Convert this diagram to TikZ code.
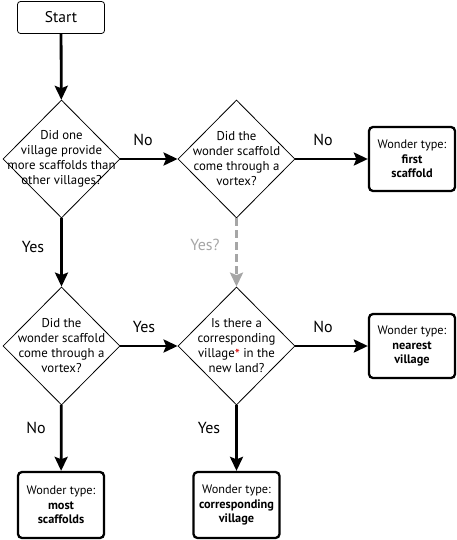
\documentclass[tikz,border=0pt]{standalone}
\usepackage{fontspec}
\setmainfont{PT Sans}
\usetikzlibrary{shapes.geometric,arrows.meta,positioning}
\tikzset{
  inicio/.style={draw,rounded corners=3pt,line width=0.8pt,minimum width=87pt,minimum height=32pt,font=\fontsize{15.5}{18}\selectfont},
  pregunta/.style={draw,diamond,line width=0.8pt,minimum width=117pt,minimum height=118pt,inner sep=-22pt,align=center,font=\fontsize{12.8}{15}\selectfont},
  resultado/.style={draw,rounded corners=4pt,line width=2.3pt,minimum width=86pt,minimum height=64pt,align=center,font=\fontsize{12.3}{14.5}\selectfont},
  flecha/.style={-{Stealth[length=14pt,width=13pt,inset=2.5pt]},line width=2.8pt},
  quizas/.style={flecha,gray!70,dash pattern=on 8pt off 4pt},
  rotulo/.style={font=\fontsize{16}{18}\selectfont}
}
\begin{document}
\begin{tikzpicture}[x=1pt,y=-1pt]
\useasboundingbox (0,0) rectangle (457,540);
% nodes
\node[inicio] (start) at (61,17.5) {Start};
\node[pregunta] (d1) at (61.5,159) {Did one\\village provide\\more scaffolds than\\other villages?};
\node[pregunta] (d2) at (236.5,159) {Did the\\wonder scaffold\\come through a\\vortex?};
\node[pregunta] (d3) at (61.5,346) {Did the\\wonder scaffold\\come through a\\vortex?};
\node[pregunta] (d4) at (236.5,346) {Is there a\\corresponding\\village\raisebox{-0.2ex}{\color{red!85!black}\Large*} in the\\new land?};
\node[resultado] (r1) at (412,159) {Wonder type:\\\textbf{first}\\\textbf{scaffold}};
\node[resultado] (r2) at (412,346) {Wonder type:\\\textbf{nearest}\\\textbf{village}};
\node[resultado,minimum height=66pt] (r3) at (61,505) {Wonder type:\\\textbf{most}\\\textbf{scaffolds}};
\node[resultado,minimum height=66pt] (r4) at (236.5,505) {Wonder type:\\\textbf{corresponding}\\\textbf{village}};
% connectors
\draw[flecha] (start) -- (d1);
\draw[flecha] (d1) -- (d2);
\draw[flecha] (d2) -- (r1);
\draw[flecha] (d1) -- (d3);
\draw[quizas] (d2) -- (d4);
\draw[flecha] (d3) -- (d4);
\draw[flecha] (d4) -- (r2);
\draw[flecha] (d3) -- (r3);
\draw[flecha] (d4) -- (r4);
% labels
\node[rotulo] (no1) at (143,140) {No};
\node[rotulo] (no2) at (323,140) {No};
\node[rotulo] (si1) at (33,247) {Yes};
\node[rotulo,gray!70] (si2) at (205,245) {Yes?};
\node[rotulo] (si3) at (144,327) {Yes};
\node[rotulo] (no3) at (323,327) {No};
\node[rotulo] (no4) at (36,428) {No};
\node[rotulo] (si4) at (209,428) {Yes};
\end{tikzpicture}
\end{document}
